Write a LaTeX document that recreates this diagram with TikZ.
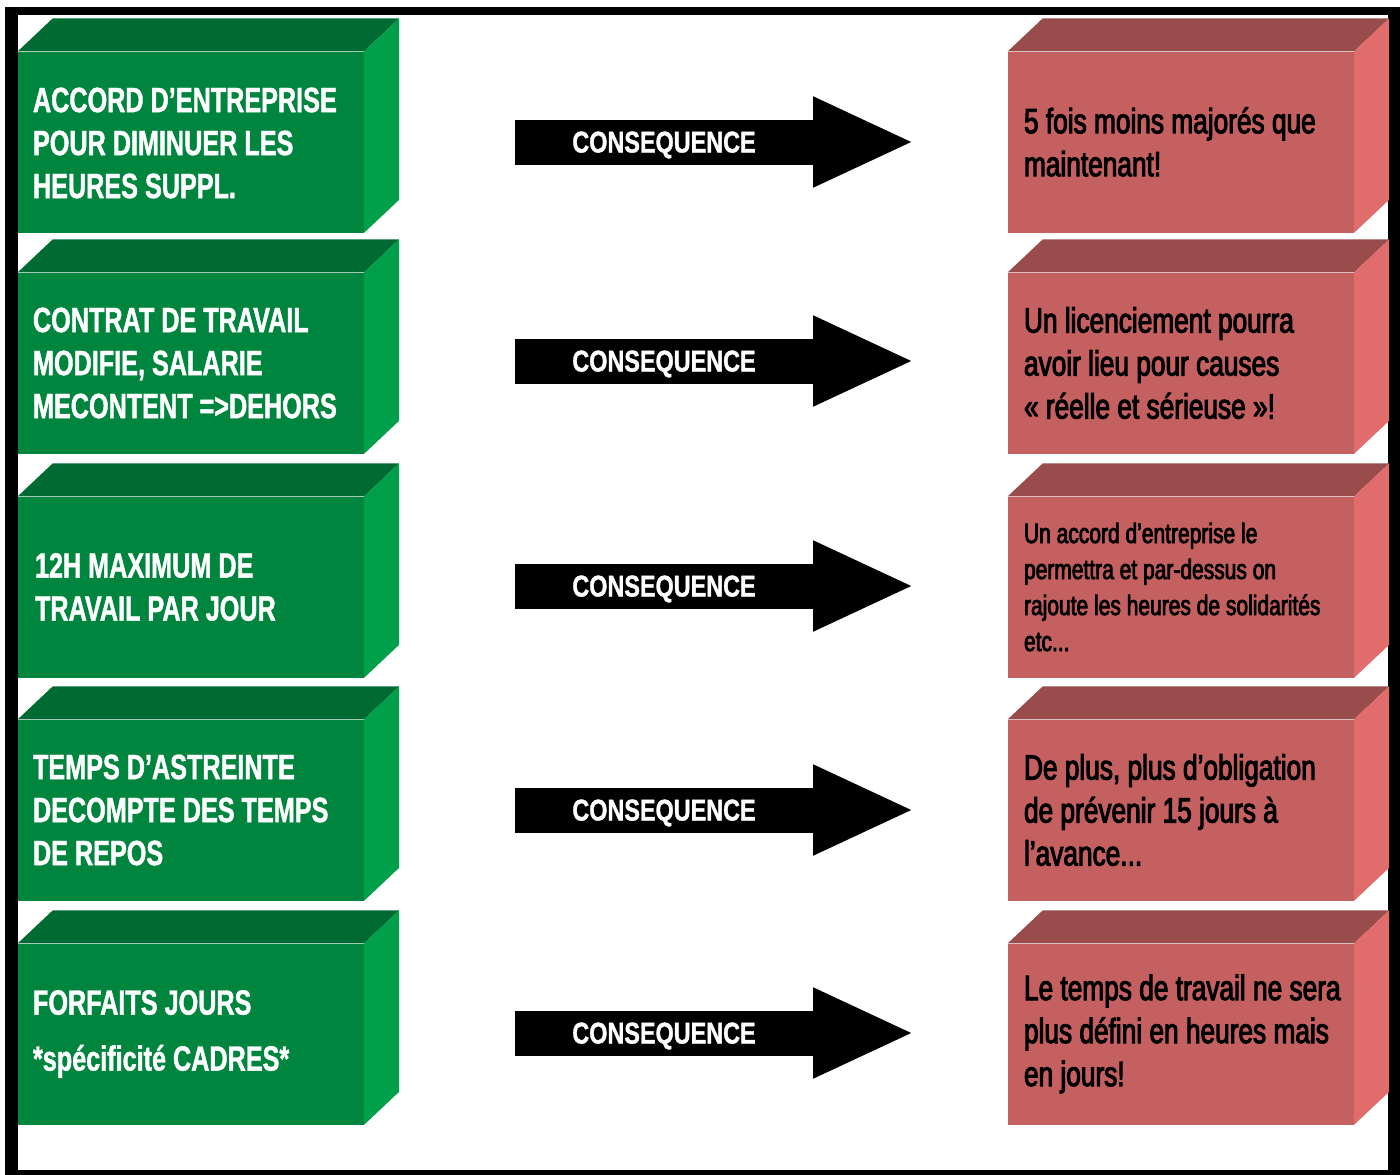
\documentclass[tikz,border=0pt]{standalone}
\usepackage{fontspec}
\setmainfont{Liberation Sans}
\newfontfamily\greenfont{Liberation Sans}[FakeStretch=0.72,FakeBold=1.2]
\newfontfamily\redfont{Liberation Sans}[FakeStretch=0.75,FakeBold=2.8]
\newfontfamily\arrowfont{Liberation Sans}[FakeStretch=0.78,FakeBold=1.2]
\usetikzlibrary{calc,positioning}

\definecolor{greenfront}{RGB}{0,133,62}
\definecolor{greentop}{RGB}{0,106,51}
\definecolor{greenside}{RGB}{0,160,74}
\definecolor{redfront}{RGB}{196,96,96}
\definecolor{redtop}{RGB}{152,76,76}
\definecolor{redside}{RGB}{225,108,108}

\tikzset{
  front/.style={draw=none, minimum width=346pt, minimum height=181pt, inner sep=0pt},
  gfront/.style={front, fill=greenfront},
  rfront/.style={front, fill=redfront},
  gtext/.style={anchor=west, align=left, text=white, inner sep=0pt,
    font=\greenfont\bfseries\fontsize{35}{43}\selectfont},
  rtext/.style={anchor=west, align=left, text=black, inner sep=0pt,
    font=\redfont\fontsize{35}{43}\selectfont},
  conseq/.style={fill=black, text=white, minimum width=298pt, minimum height=45pt, inner sep=0pt,
    text height=21pt, text depth=0pt, font=\arrowfont\bfseries\fontsize{30}{30}\selectfont},
}

\begin{document}
\begin{tikzpicture}[x=1pt, y=-1pt]
    \useasboundingbox (0,0) rectangle (1400,1175);
    % frame
    \fill[black] (5,7) rectangle (1400,1175);
    \fill[white] (18,15) rectangle (1388,1170);

    % front faces
    \node[gfront] (g1) at (191,142) {};
    \node[gfront] (g2) at (191,363) {};
    \node[gfront] (g3) at (191,587) {};
    \node[gfront] (g4) at (191,810) {};
    \node[gfront] (g5) at (191,1034) {};
    \node[rfront] (r1) at (1181,142) {};
    \node[rfront] (r2) at (1181,363) {};
    \node[rfront] (r3) at (1181,587) {};
    \node[rfront] (r4) at (1181,810) {};
    \node[rfront] (r5) at (1181,1034) {};

    % top and side faces
    \foreach \b/\tc/\sc in {g1/greentop/greenside, g2/greentop/greenside, g3/greentop/greenside,
        g4/greentop/greenside, g5/greentop/greenside, r1/redtop/redside, r2/redtop/redside,
        r3/redtop/redside, r4/redtop/redside, r5/redtop/redside}{
      \fill[\tc] (\b.north west) -- ++(35,-33) -- ($(\b.north east)+(35,-33)$) -- (\b.north east) -- cycle;
      \fill[\sc] (\b.north east) -- ++(35,-33) -- ($(\b.south east)+(35,-33)$) -- (\b.south east) -- cycle;
    }

    % texts
    \node[gtext] (gt1) at ([xshift=15pt,yshift=-1pt]g1.west) {ACCORD D’ENTREPRISE\\POUR DIMINUER LES\\HEURES SUPPL.};
    \node[gtext] (gt2) at ([xshift=15pt]g2.west) {CONTRAT DE TRAVAIL\\MODIFIE, SALARIE\\MECONTENT =>DEHORS};
    \node[gtext] (gt3) at ([xshift=17pt]g3.west) {12H MAXIMUM DE\\TRAVAIL PAR JOUR};
    \node[gtext] (gt4) at ([xshift=15pt]g4.west) {TEMPS D’ASTREINTE\\DECOMPTE DES TEMPS\\DE REPOS};
    \node[gtext, font=\greenfont\bfseries\fontsize{35}{56}\selectfont] (gt5) at ([xshift=15pt]g5.west) {FORFAITS JOURS\\*spécificité CADRES*};

    \node[rtext] (rt1) at ([xshift=16pt]r1.west) {5 fois moins majorés que\\maintenant!};
    \node[rtext] (rt2) at ([xshift=16pt]r2.west) {Un licenciement pourra\\avoir lieu pour causes\\« réelle et sérieuse »!};
    \node[rtext, font=\redfont\fontsize{28}{36}\selectfont] (rt3) at ([xshift=16pt]r3.west) {Un accord d’entreprise le\\permettra et par-dessus on\\rajoute les heures de solidarités\\etc...};
    \node[rtext] (rt4) at ([xshift=16pt]r4.west) {De plus, plus d’obligation\\de prévenir 15 jours à\\l’avance...};
    \node[rtext] (rt5) at ([xshift=16pt]r5.west) {Le temps de travail ne sera\\plus défini en heures mais\\en jours!};

    % arrows
    \foreach \i/\y in {1/142, 2/361, 3/586, 4/810, 5/1033}{
      \node[conseq] (a\i) at (664,\y) {CONSEQUENCE};
      \fill ($(a\i.north east)+(0,-23)$) -- ($(a\i.east)+(98,0)$) -- ($(a\i.south east)+(0,23)$) -- cycle;
    }
\end{tikzpicture}
\end{document}
